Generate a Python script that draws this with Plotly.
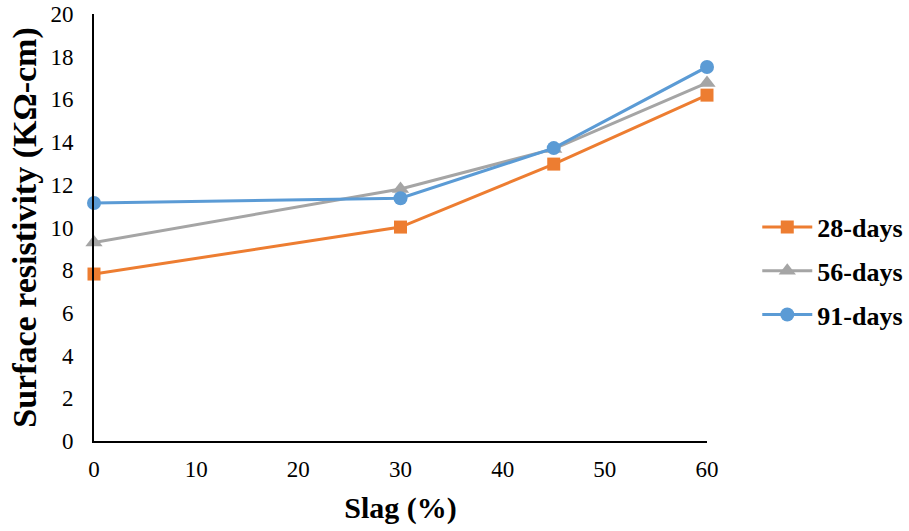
import plotly.graph_objects as go

slag = [0, 30, 45, 60]
days28 = [7.82, 10.02, 12.97, 16.2]
days56 = [9.3, 11.8, 13.68, 16.77]
days91 = [11.15, 11.37, 13.72, 17.52]
series_names = ["28-days", "56-days", "91-days"]
colors = ["#ED7D31", "#A5A5A5", "#5B9BD5"]
symbols = ["square", "triangle-up", "circle"]
sizes = [13, 15, 14]

fig = go.Figure()
for name, vals, c, s, sz in zip(series_names, [days28, days56, days91], colors, symbols, sizes):
    fig.add_trace(go.Scatter(
        x=slag, y=vals, name=name, mode="lines+markers", legendgroup=name,
        line=dict(color=c, width=3),
        marker=dict(symbol=s, size=sz, color=c),
        cliponaxis=False,
    ))

font = "Liberation Serif"
fig.update_layout(
    width=909, height=531,
    margin=dict(l=94, r=202, t=14, b=90, autoexpand=False),
    plot_bgcolor="white", paper_bgcolor="white",
    font=dict(family=font, color="black", size=22),
    showlegend=True,
    legend=dict(
        x=1.082, xanchor="left", y=0.398, yanchor="middle", xref="paper",
        font=dict(family=font, size=26, color="black", weight="bold"),
        tracegroupgap=7, itemsizing="trace", itemwidth=50,
        bgcolor="rgba(0,0,0,0)",
    ),
    xaxis=dict(
        range=[0, 60], tickvals=[0, 10, 20, 30, 40, 50, 60], automargin=False,
        showgrid=False, zeroline=False, showline=True, linecolor="black", linewidth=2,
        ticks="", tickfont=dict(size=23, family=font, color="black"), ticklabelstandoff=6,
        title=dict(text="<b>Slag (%)</b>", font=dict(size=30, family=font), standoff=16),
    ),
    yaxis=dict(
        range=[0, 20], tickvals=list(range(0, 21, 2)), automargin=False,
        showgrid=False, zeroline=False, showline=True, linecolor="black", linewidth=2,
        ticks="", tickfont=dict(size=23, family=font, color="black"), ticklabelstandoff=14,
        title=dict(text="<b>Surface resistivity (KΩ-cm)</b>", font=dict(size=34, family=font), standoff=4),
    ),
)

fig.write_html("out.html")
